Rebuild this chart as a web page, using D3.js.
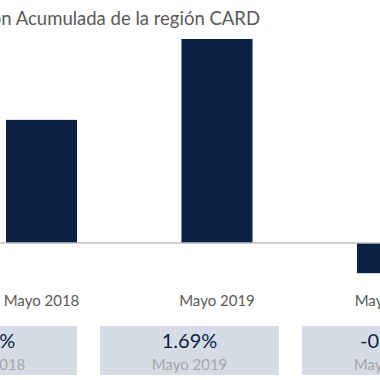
<!DOCTYPE html>
<html><head><meta charset="utf-8">
<script src="https://cdn.jsdelivr.net/npm/d3@7"></script>
<style>html,body{margin:0;padding:0;background:#fff;overflow:hidden}</style>
</head><body>
<svg id="c" width="380" height="380"></svg>
<script>
const title = "Inflación Acumulada de la región CARD";
const categories = ["Mayo 2018", "Mayo 2019", "Mayo 2020"];
const values = [1.02, 1.69, -0.25];
const valueLabels = ["1.02%", "1.69%", "-0.25%"];

const svg = d3.select("#c");
const font = "Lato, 'Open Sans', sans-serif";

const x = d3.scaleBand().domain(categories).range([-46.25, 480.25]).paddingInner(0.595).paddingOuter(0.2975);
const y = d3.scaleLinear().domain([0, 1.69]).range([243, 39]);

svg.append("text").attr("x", 260).attr("y", 25).attr("text-anchor", "end")
  .attr("font-family", font).attr("font-size", 18.5).attr("fill", "#595959").text(title);

svg.selectAll("rect.bar").data(values).join("rect").attr("class", "bar")
  .attr("x", (d, i) => x(categories[i]))
  .attr("width", x.bandwidth())
  .attr("y", d => Math.min(y(d), y(0)))
  .attr("height", d => Math.abs(y(d) - y(0)))
  .attr("fill", "#0c1f45");

svg.append("line").attr("x1", 0).attr("x2", 380).attr("y1", y(0)).attr("y2", y(0))
  .attr("stroke", "#bfbfbf").attr("stroke-width", 1.5);

const xAxis = d3.axisBottom(x).tickSize(0).tickPadding(0);
const ax = svg.append("g").attr("transform", "translate(0,306)").call(xAxis);
ax.select(".domain").remove();
ax.selectAll("text").attr("font-family", font).attr("font-size", 15).attr("fill", "#595959").attr("dy", 0);

const bx = d3.scaleBand().domain(categories).range([-113.5, 492.5]).paddingInner(0.1139).paddingOuter(0.057);
const boxes = svg.selectAll("g.box").data(categories).join("g").attr("class", "box")
  .attr("transform", d => `translate(${bx(d)},326)`);
boxes.append("rect").attr("width", bx.bandwidth()).attr("height", 49).attr("fill", "#d6dce5");
boxes.append("text").attr("x", bx.bandwidth() / 2).attr("y", 21.5).attr("text-anchor", "middle")
  .attr("font-family", font).attr("font-size", 20).attr("fill", "#0c1f45")
  .text((d, i) => valueLabels[i]);
boxes.append("text").attr("x", bx.bandwidth() / 2).attr("y", 44).attr("text-anchor", "middle")
  .attr("font-family", font).attr("font-size", 15).attr("fill", "#a6a6a6")
  .text(d => d);
</script>
</body></html>
